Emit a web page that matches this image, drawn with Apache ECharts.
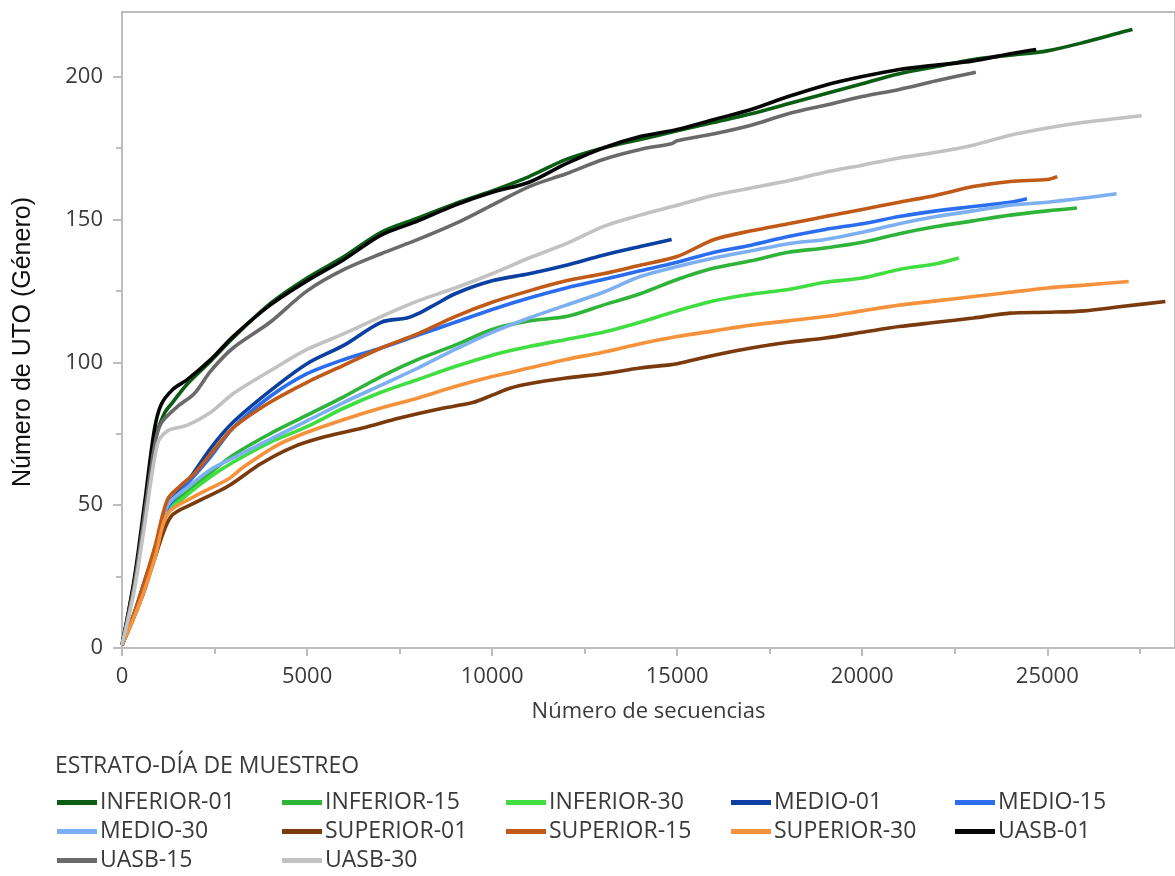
<!DOCTYPE html>
<html><head><meta charset="utf-8">
<script src="https://cdn.jsdelivr.net/npm/echarts@6/dist/echarts.min.js"></script>
<style>html,body{margin:0;padding:0;background:#fff}#c{width:1175px;height:876px}</style>
</head><body><div id="c"></div>
<script>
// ---- data (x = número de secuencias, y = número de UTO) ----
const SERIES_NAMES = ['INFERIOR-01','INFERIOR-15','INFERIOR-30','MEDIO-01','MEDIO-15','MEDIO-30','SUPERIOR-01','SUPERIOR-15','SUPERIOR-30','UASB-01','UASB-15','UASB-30'];
const COLORS = ['#0b5d14','#2fb43a','#40de40','#0b3fa2','#2b6df0','#7db0f2','#7a3a0b','#c05a16','#f6923c','#050505','#6a6a6a','#c2c2c2'];

const INFERIOR_01 = [[0,1],[300,21],[600,46],[870,72],[1140,82],[1370,86],[1770,92.5],[2400,100.5],[3000,108.5],[4000,120.5],[5000,129.5],[6000,137],[7000,145.5],[8000,150.5],[9000,155.5],[10000,160],[11000,165],[12000,171],[13000,175],[14000,178],[15000,181],[16000,184],[17000,187],[18000,190.5],[19000,194],[20000,197.5],[21000,201],[22000,203.5],[23000,206],[24000,207.5],[25000,209],[26000,212],[27000,215.5],[27300,216.5]];
const INFERIOR_15 = [[0,1],[300,11],[600,22],[900,34],[1230,49],[1800,55],[2400,61.5],[3000,67.5],[4000,75],[5000,81.5],[6000,88],[7000,95],[8000,101],[9000,106],[10000,111.5],[11000,114.5],[12000,116],[13000,120],[14000,124],[15000,129],[16000,133],[17000,135.5],[18000,138.5],[19000,140],[20000,142],[21000,145],[22000,147.5],[23000,149.5],[24000,151.5],[25000,153],[25800,154]];
const INFERIOR_30 = [[0,1],[300,11],[600,21],[900,33],[1230,47],[1800,54],[2400,60],[3000,65],[4000,72],[5000,77.5],[6000,84],[7000,89.5],[8000,94],[9000,98.5],[10000,102.5],[11000,105.5],[12000,108],[13000,110.5],[14000,114],[15000,118],[16000,121.5],[17000,123.8],[18000,125.5],[19000,128],[20000,129.5],[21000,132.5],[22000,134.5],[22610,136.5]];
const MEDIO_01 = [[0,1],[300,11],[600,23],[900,35],[1230,50],[1700,57],[2400,70],[3000,79],[4000,90],[5000,99.5],[6000,106],[7000,114],[7700,115.5],[8000,117],[8500,120.5],[9000,124],[10000,128.5],[11000,131],[12000,134],[13000,137.5],[14000,140.5],[14850,143]];
const MEDIO_15 = [[0,1],[300,11],[600,22],[900,34],[1230,49],[1600,55],[2400,67],[3000,77],[4000,88],[5000,96],[6000,101],[7000,105],[8000,109.5],[9000,114],[10000,118.5],[11000,122.5],[12000,126],[13000,129],[14000,132],[15000,135],[16000,138.5],[17000,141],[18000,144],[19000,146.5],[20000,148.5],[21000,151],[22000,153],[23000,154.5],[24000,156],[24450,157.2]];
const MEDIO_30 = [[0,1],[300,11],[600,22],[900,34],[1230,50],[1800,56.5],[2400,62.5],[3000,66.5],[4000,73],[5000,79.5],[6000,86],[7000,92],[8000,98],[9000,104.5],[10000,110.5],[11000,115.5],[12000,120],[13000,124.5],[14000,130],[15000,133.5],[16000,136.5],[17000,139],[18000,141.5],[19000,143],[20000,145.5],[21000,148.5],[22000,151],[23000,153],[24000,155],[25000,156],[26000,157.5],[26870,159]];
const SUPERIOR_01 = [[0,1],[300,10],[600,20],[900,32],[1320,46],[1950,50.7],[2850,56.5],[3750,64.5],[4650,70.5],[5500,74],[6500,77],[7500,80.5],[8500,83.5],[9500,86],[10000,88.5],[10500,91],[11000,92.5],[12000,94.5],[13000,96],[14000,98],[14800,99.1],[15000,99.5],[16000,102.5],[17000,105],[18000,107],[19000,108.5],[20000,110.5],[21000,112.5],[22000,114],[23000,115.5],[24000,117.2],[25000,117.5],[26000,118],[27000,119.5],[28190,121.3]];
const SUPERIOR_15 = [[0,1],[300,11],[600,23],[900,36],[1230,52],[1600,57],[1950,61],[2400,68],[3000,77],[4000,86],[5000,93],[6000,99],[7000,105],[8000,110],[9000,116],[10000,121],[11000,125],[12000,128.5],[13000,131],[14000,134],[15000,137],[16000,143],[17000,146],[18000,148.5],[19000,151],[20000,153.5],[21000,156],[22000,158.5],[23000,161.5],[24000,163.3],[25000,164],[25270,165]];
const SUPERIOR_30 = [[0,1],[300,10],[600,20],[900,32],[1230,47],[1950,53],[2850,59],[3300,63.5],[4200,71],[5000,75.5],[6000,80],[7000,84],[8000,87.5],[9000,91.5],[10000,95],[11000,98],[12000,101],[13000,103.5],[14000,106.5],[15000,109],[16000,111],[17000,113],[18000,114.5],[19000,116],[20000,118],[21000,120],[22000,121.5],[23000,123],[24000,124.5],[25000,126],[26000,127],[27200,128.3]];
const UASB_01 = [[0,1],[330,24],[600,49.5],[870,76],[1050,85],[1370,90.5],[1770,94],[2400,101],[3000,109],[4000,120],[5000,128.5],[6000,136],[7000,144.5],[8000,149.5],[9000,155],[10000,159.5],[11000,163],[12000,169.5],[13000,175],[14000,179],[15000,181.5],[16000,185],[17000,188.5],[18000,193],[19000,197],[20000,200],[21000,202.5],[22000,204],[23000,205.5],[24000,208],[24700,209.5]];
const UASB_15 = [[0,1],[330,22],[600,46],[870,70],[1050,78.5],[1500,84.5],[1950,89],[2400,97],[3000,105],[4000,114],[5000,125],[6000,132.5],[7000,138],[8000,143],[9000,148.5],[10000,155],[11000,161.5],[12000,166],[13000,171],[14000,174.5],[14850,176.5],[15000,177.5],[16000,180],[17000,183],[18000,187],[19000,190],[20000,193],[21000,195.5],[22000,198.5],[23070,201.5]];
const UASB_30 = [[0,1],[330,20],[600,42],[960,71.5],[1230,76],[1770,78],[2400,82.5],[3000,89],[4000,97],[5000,104.5],[6000,110],[7000,116],[8000,121.5],[9000,126],[10000,131],[11000,136.5],[12000,141.5],[13000,147.5],[14000,151.5],[15000,155],[16000,158.5],[17000,161],[18000,163.5],[19000,166.5],[20000,169],[21000,171.5],[22000,173.5],[23000,176],[24000,179.5],[25000,182],[26000,184],[27000,185.5],[27550,186.3]];

const SERIES_DATA = [INFERIOR_01,INFERIOR_15,INFERIOR_30,MEDIO_01,MEDIO_15,MEDIO_30,SUPERIOR_01,SUPERIOR_15,SUPERIOR_30,UASB_01,UASB_15,UASB_30];

const X_TICKS_MAJOR = [0,5000,10000,15000,20000,25000];
const X_TICKS_MINOR = [2500,7500,12500,17500,22500,27500];
const Y_TICKS_MAJOR = [0,50,100,150,200];
const Y_TICKS_MINOR = [25,75,125,175];
const LEGEND_TITLE = 'ESTRATO-DÍA DE MUESTREO';
const LEGEND_COLUMNS = [
  ['INFERIOR-01','MEDIO-30','UASB-15'],
  ['INFERIOR-15','SUPERIOR-01','UASB-30'],
  ['INFERIOR-30','SUPERIOR-15'],
  ['MEDIO-01','SUPERIOR-30'],
  ['MEDIO-15','UASB-01']
];
const X_NAME = 'Número de secuencias';
const Y_NAME = 'Número de UTO (Género)';

// ---- chart ----
const FONT = '"Open Sans", "Noto Sans", sans-serif';
const AXIS_COLOR = '#bdbdbd';
const TEXT_COLOR = '#3a3a3a';
const X_MAX = 28450, Y_MAX = 222.6;
const LEGEND_LEFTS = [57, 282, 506, 731, 955];

const chart = echarts.init(document.getElementById('c'), null, {renderer:'canvas'});

const baseX = {type:'value', min:0, max:X_MAX, splitLine:{show:false}};
const baseY = {type:'value', min:0, max:Y_MAX, splitLine:{show:false}};

chart.setOption({
  animation:false,
  backgroundColor:'#ffffff',
  title:{text:LEGEND_TITLE, left:55, top:755, padding:0, textStyle:{fontFamily:FONT, fontSize:23, fontWeight:'normal', color:TEXT_COLOR}},
  grid:{left:122, top:12, right:-2, bottom:228, show:true, borderColor:AXIS_COLOR, borderWidth:2, backgroundColor:'transparent'},
  xAxis:[
    Object.assign({}, baseX, {
      interval:2500,
      axisLine:{show:true, lineStyle:{color:AXIS_COLOR, width:2}},
      axisTick:{show:true, customValues:X_TICKS_MAJOR, length:8, lineStyle:{color:AXIS_COLOR, width:2}},
      axisLabel:{customValues:X_TICKS_MAJOR, margin:18, fontSize:22, fontFamily:FONT, color:TEXT_COLOR,
        formatter:v => (v % 5000 === 0 ? String(v) : '')},
      name:X_NAME, nameLocation:'middle', nameGap:53,
      nameTextStyle:{fontSize:22, fontFamily:FONT, color:TEXT_COLOR}
    }),
    Object.assign({}, baseX, {
      position:'bottom',
      axisLine:{show:false},
      axisTick:{show:true, customValues:X_TICKS_MINOR, length:6, lineStyle:{color:AXIS_COLOR, width:2}},
      axisLabel:{show:false}
    })
  ],
  yAxis:[
    Object.assign({}, baseY, {
      interval:25,
      axisLine:{show:true, lineStyle:{color:AXIS_COLOR, width:2}},
      axisTick:{show:true, customValues:Y_TICKS_MAJOR, length:9, lineStyle:{color:AXIS_COLOR, width:2}},
      axisLabel:{customValues:Y_TICKS_MAJOR, margin:19, fontSize:22, fontFamily:FONT, color:TEXT_COLOR,
        formatter:v => (v % 50 === 0 ? String(v) : '')}
    }),
    Object.assign({}, baseY, {
      position:'left',
      axisLine:{show:false},
      axisTick:{show:true, customValues:Y_TICKS_MINOR, length:6, lineStyle:{color:AXIS_COLOR, width:2}},
      axisLabel:{show:false}
    })
  ],
  graphic:[{
    type:'text', x:23, y:342, rotation:Math.PI/2,
    style:{text:Y_NAME, font:'25px "Liberation Sans", Arial, sans-serif', fill:'#111', align:'center', verticalAlign:'middle'}
  }],
  legend: LEGEND_COLUMNS.map((col, i) => ({
    data:col, orient:'vertical', left:LEGEND_LEFTS[i], top:791, height:120, width:220,
    icon:'rect', itemWidth:40, itemHeight:5, itemGap:6, padding:0,
    selectedMode:false,
    textStyle:{fontFamily:FONT, fontSize:23, color:TEXT_COLOR, padding:[0,0,0,-2]}
  })),
  series: SERIES_NAMES.map((name, i) => ({
    name, type:'line', data:SERIES_DATA[i], xAxisIndex:0, yAxisIndex:0,
    showSymbol:false, symbol:'none', smooth:0.3,
    color:COLORS[i],
    lineStyle:{color:COLORS[i], width:3.6},
    itemStyle:{color:COLORS[i]},
    emphasis:{disabled:true}
  }))
});
</script></body></html>
